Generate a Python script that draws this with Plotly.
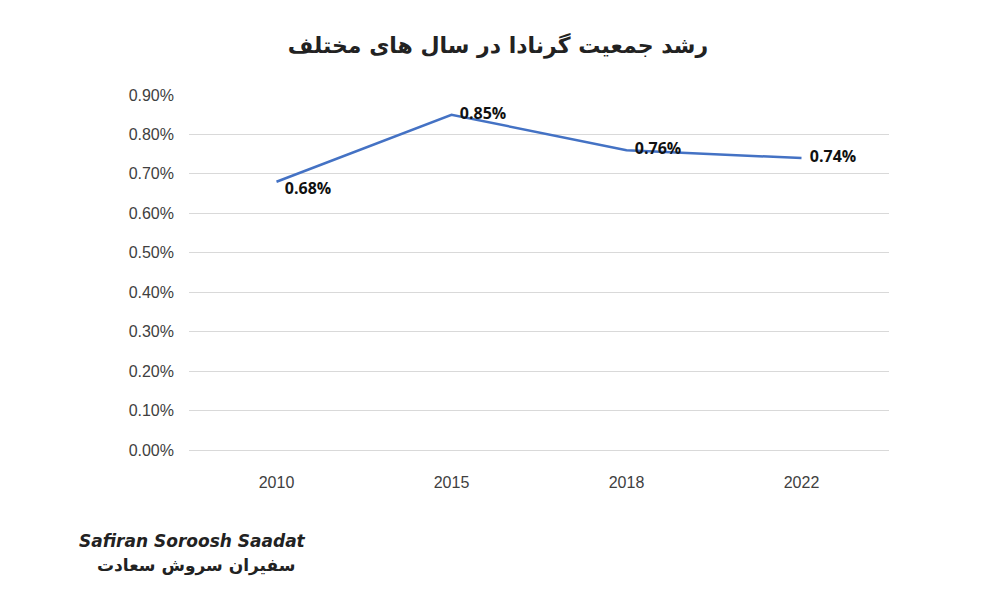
import plotly.graph_objects as go

years = ["2010", "2015", "2018", "2022"]
growth = [0.0068, 0.0085, 0.0076, 0.0074]
label_pos = ["bottom right", "middle right", "middle right", "middle right"]

fig = go.Figure(go.Scatter(
    x=years, y=growth,
    mode="lines+text",
    line=dict(color="#4472C4", width=2.5),
    text=[f"{v*100:.2f}%" for v in growth],
    textposition=label_pos,
    textfont=dict(family="Open Sans", size=16, color="#111111"),
    texttemplate="<b>  %{text}</b>",
    cliponaxis=False,
))

fig.update_layout(
    width=1000, height=600,
    paper_bgcolor="white", plot_bgcolor="white",
    margin=dict(l=181, r=119, t=87, b=158, autoexpand=False),
    showlegend=False,
    title=dict(text="<b>رشد جمعیت گرنادا در سال های مختلف</b>", x=0.49, y=0.95,
               xanchor="center", font=dict(family="DejaVu Sans", size=22, color="#222")),
    font=dict(family="Liberation Sans", size=16, color="#404040"),
)
fig.update_yaxes(range=[0, 0.009], dtick=0.001, tickformat=".2%",
                 gridcolor="#d9d9d9", zeroline=False, showline=False, ticks="",
                 ticklabelstandoff=14)
fig.update_xaxes(range=[-0.5, 3.5], showgrid=False, showline=True, linecolor="#d9d9d9",
                 ticks="", ticklabelstandoff=18)

fig.add_annotation(text="<b><i>Safiran Soroosh Saadat</i></b>", x=-0.16, y=-0.29,
                   xref="paper", yref="paper", xanchor="left", showarrow=False,
                   font=dict(family="DejaVu Sans", size=17, color="#222"))
fig.add_annotation(text="<b>سفیران سروش سعادت</b>", x=-0.135, y=-0.36,
                   xref="paper", yref="paper", xanchor="left", showarrow=False,
                   font=dict(family="DejaVu Sans", size=17, color="#222"))

fig.write_html("out.html")
